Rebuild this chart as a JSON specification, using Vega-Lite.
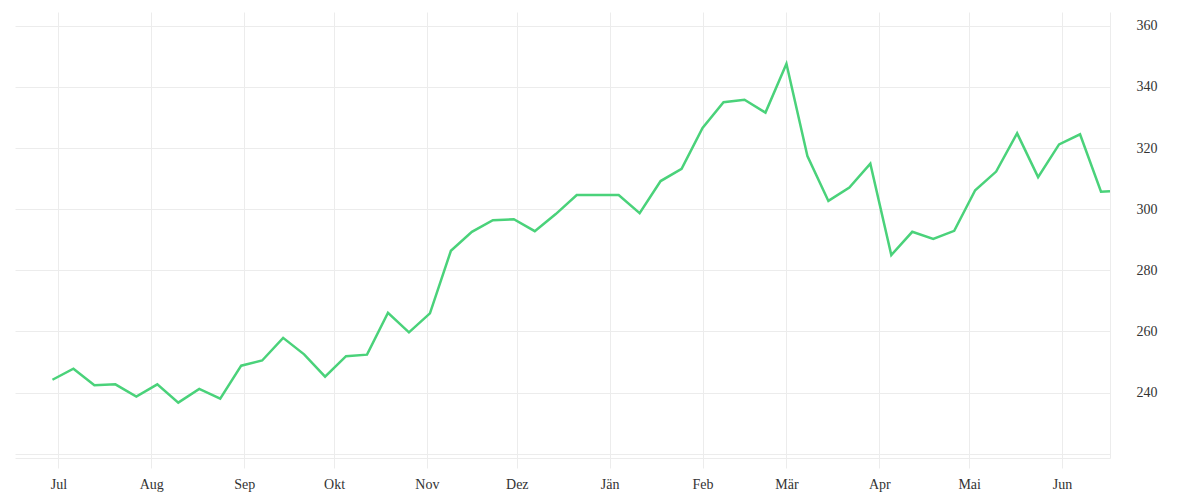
{
  "$schema": "https://vega.github.io/schema/vega-lite/v6.json",
  "width": 1095,
  "height": 446,
  "autosize": "none",
  "padding": {"left": 15, "top": 12, "right": 90, "bottom": 42},
  "background": "white",
  "config": {"view": {"stroke": null}, "font": "Liberation Serif"},
  "data": {"values": [
    {"date": "2022-06-29", "value": 244.2},
    {"date": "2022-07-06", "value": 247.8},
    {"date": "2022-07-13", "value": 242.4},
    {"date": "2022-07-20", "value": 242.7},
    {"date": "2022-07-27", "value": 238.7},
    {"date": "2022-08-03", "value": 242.7},
    {"date": "2022-08-10", "value": 236.7},
    {"date": "2022-08-17", "value": 241.2},
    {"date": "2022-08-24", "value": 238.0},
    {"date": "2022-08-31", "value": 248.8},
    {"date": "2022-09-07", "value": 250.5},
    {"date": "2022-09-14", "value": 257.9},
    {"date": "2022-09-21", "value": 252.5},
    {"date": "2022-09-28", "value": 245.2},
    {"date": "2022-10-05", "value": 251.9},
    {"date": "2022-10-12", "value": 252.4},
    {"date": "2022-10-19", "value": 266.1},
    {"date": "2022-10-26", "value": 259.7},
    {"date": "2022-11-02", "value": 265.9},
    {"date": "2022-11-09", "value": 286.4},
    {"date": "2022-11-16", "value": 292.6},
    {"date": "2022-11-23", "value": 296.4},
    {"date": "2022-11-30", "value": 296.7},
    {"date": "2022-12-07", "value": 292.8},
    {"date": "2022-12-14", "value": 298.4},
    {"date": "2022-12-21", "value": 304.6},
    {"date": "2022-12-28", "value": 304.6},
    {"date": "2023-01-04", "value": 304.6},
    {"date": "2023-01-11", "value": 298.7},
    {"date": "2023-01-18", "value": 309.2},
    {"date": "2023-01-25", "value": 313.2},
    {"date": "2023-02-01", "value": 326.6},
    {"date": "2023-02-08", "value": 335.0},
    {"date": "2023-02-15", "value": 335.8},
    {"date": "2023-02-22", "value": 331.6},
    {"date": "2023-03-01", "value": 347.6},
    {"date": "2023-03-08", "value": 317.4},
    {"date": "2023-03-15", "value": 302.7},
    {"date": "2023-03-22", "value": 307.1},
    {"date": "2023-03-29", "value": 314.9},
    {"date": "2023-04-05", "value": 285.0},
    {"date": "2023-04-12", "value": 292.6},
    {"date": "2023-04-19", "value": 290.3},
    {"date": "2023-04-26", "value": 292.9},
    {"date": "2023-05-03", "value": 306.2},
    {"date": "2023-05-10", "value": 312.3},
    {"date": "2023-05-17", "value": 324.8},
    {"date": "2023-05-24", "value": 310.5},
    {"date": "2023-05-31", "value": 321.2},
    {"date": "2023-06-07", "value": 324.5},
    {"date": "2023-06-14", "value": 305.7},
    {"date": "2023-06-17", "value": 305.9}
  ]},
  "mark": {"type": "line", "color": "#4ad27a", "strokeWidth": 2.5, "strokeJoin": "miter"},
  "encoding": {
    "x": {
      "field": "date",
      "type": "temporal",
      "scale": {"type": "utc", "domain": ["2022-06-16T12:00:00Z", "2023-06-17T00:00:00Z"]},
      "axis": {
        "title": null,
        "orient": "bottom",
        "tickCount": {"interval": "month", "step": 1},
        "labelExpr": "['Jän','Feb','Mär','Apr','Mai','Jun','Jul','Aug','Sep','Okt','Nov','Dez'][utcmonth(datum.value)]",
        "grid": true,
        "gridColor": "#ececec",
        "domain": true,
        "domainColor": "#ececec",
        "ticks": true,
        "tickSize": 10,
        "tickColor": "#ececec",
        "labelPadding": 9,
        "labelFontSize": 14,
        "labelColor": "#333",
        "labelFont": "Liberation Serif"
      }
    },
    "y": {
      "field": "value",
      "type": "quantitative",
      "scale": {"domain": [218.6, 364.5], "nice": false, "zero": false},
      "axis": {
        "title": null,
        "orient": "right",
        "values": [220, 240, 260, 280, 300, 320, 340, 360],
        "labelExpr": "datum.value == 220 ? '' : datum.label",
        "grid": true,
        "gridColor": "#ececec",
        "domain": true,
        "domainColor": "#ececec",
        "ticks": false,
        "labelPadding": 26,
        "labelFontSize": 14,
        "labelColor": "#333",
        "labelFont": "Liberation Serif"
      }
    }
  }
}
